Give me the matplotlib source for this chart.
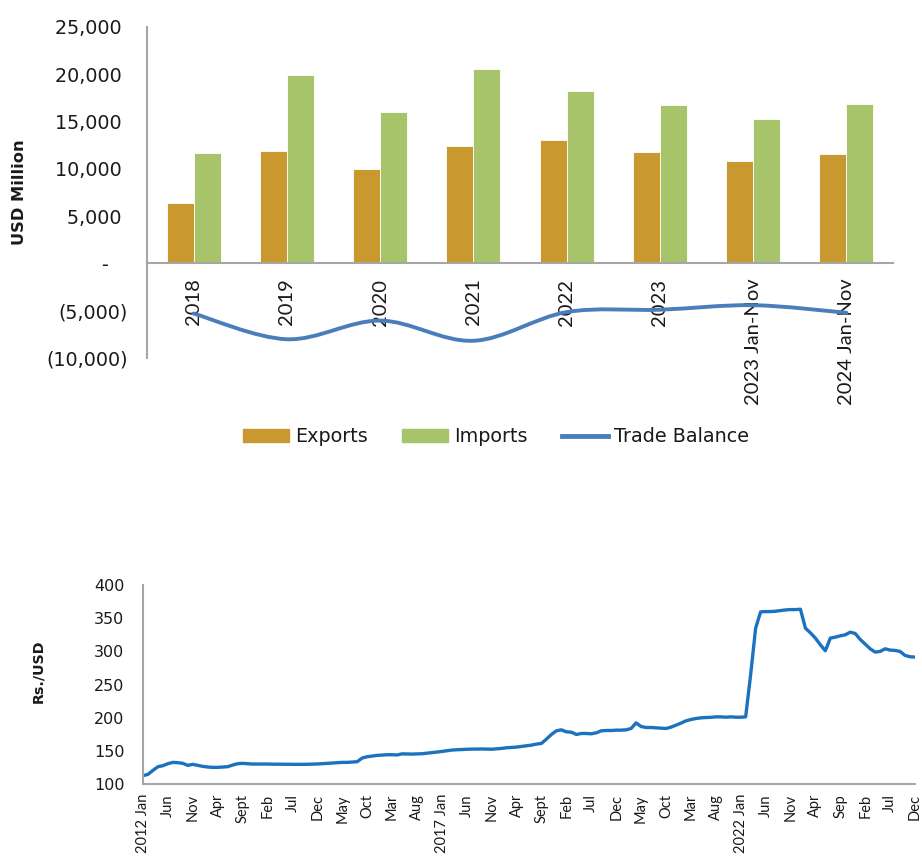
import matplotlib
matplotlib.use("Agg")
import matplotlib.pyplot as plt
import numpy as np
from matplotlib.path import Path
from matplotlib.patches import PathPatch
from matplotlib.lines import Line2D
from matplotlib.ticker import FuncFormatter

# --- trade data (USD million) ---
periods = ["2018", "2019", "2020", "2021", "2022", "2023", "2023 Jan-Nov", "2024 Jan-Nov"]
exports = [6360, 11850, 9950, 12410, 13045, 11815, 10830, 11570]
imports = [11680, 19865, 15960, 20570, 18215, 16740, 15260, 16810]
trade_balance = [-5300, -8020, -6050, -8180, -5150, -4900, -4420, -5220]

# --- exchange rate, Rs./USD, monthly ---
rate_2012 = [113, 115, 121, 126.5, 128, 131, 133, 132.5, 131.5, 128.5, 130, 128.5]
rate_2013 = [127, 126, 125.5, 125.5, 126, 126.5, 129, 131, 131.5, 131, 130.5, 130.5]
rate_2014 = [130.5, 130.5, 130.3, 130.3, 130.2, 130.1, 130, 130, 130, 130.1, 130.3, 130.6]
rate_2015 = [131, 131.5, 132, 132.5, 133, 133, 133.5, 134, 139.5, 141.5, 142.5, 143.5]
rate_2016 = [144, 144.5, 144.5, 144.2, 145.8, 145.6, 145.5, 145.8, 146, 146.8, 147.5, 148.5]
rate_2017 = [149.5, 150.5, 151.5, 152, 152.3, 152.7, 153, 153, 153.2, 153, 152.8, 153.4]
rate_2018 = [154, 155, 155.5, 156, 157, 158, 159, 160.5, 161.5, 168, 175, 180.5]
rate_2019 = [182, 179, 178.5, 175, 176.5, 176.5, 176, 177.5, 180.5, 181, 181, 181.5]
rate_2020 = [181.5, 182, 184, 192.5, 187, 185.5, 185.5, 185, 184.5, 184, 186, 189]
rate_2021 = [192, 195.5, 197.5, 199, 200, 200.5, 200.8, 201.5, 201.5, 201, 201.5, 201]
rate_2022 = [201, 201.5, 265, 335, 359.5, 360, 360, 360.5, 361.5, 362.5, 363, 363]
rate_2023 = [363.5, 335, 328, 320, 310, 301, 320, 321.5, 323.5, 325, 329, 327]
rate_2024 = [318, 311, 304, 299, 300, 304, 302, 301.5, 300, 294, 292, 291.5]
month_labels = ["2012 Jan", "Jun", "Nov", "Apr", "Sept", "Feb", "Jul", "Dec", "May", "Oct",
                "Mar", "Aug", "2017 Jan", "Jun", "Nov", "Apr", "Sept", "Feb", "Jul", "Dec",
                "May", "Oct", "Mar", "Aug", "2022 Jan", "Jun", "Nov", "Apr", "Sep", "Feb",
                "Jul", "Dec"]

C_EXP, C_IMP, C_BAL, C_RATE = "#C9982E", "#A7C46B", "#4A7EBB", "#1B72BE"
C_AXIS, C_TXT = "#A6A6A6", "#1A1A1A"


def smooth_path(xs, ys):
    """Excel-style smoothed line as cubic bezier segments (catmull-rom)."""
    p = np.column_stack([xs, ys]).astype(float)
    verts, codes = [p[0]], [Path.MOVETO]
    n = len(p)
    for i in range(n - 1):
        p0 = p[i - 1] if i > 0 else p[i]
        p3 = p[i + 2] if i + 2 < n else p[i + 1]
        c1 = p[i] + (p[i + 1] - p0) / 6
        c2 = p[i + 1] - (p3 - p[i]) / 6
        verts += [c1, c2, p[i + 1]]
        codes += [Path.CURVE4] * 3
    return Path(verts, codes)


fig = plt.figure(figsize=(9.22, 8.56), dpi=100)

# ---------------- top: trade ----------------
ax = fig.add_axes([147 / 922, 1 - 358 / 856, 746 / 922, 331.3 / 856])
# spine repositioning resets ticks, so do it before styling the labels
ax.spines["bottom"].set_position(("data", 0))
x = np.arange(len(periods))
w = 0.29
ax.bar(x - w / 2, exports, w, color=C_EXP, edgecolor="white", linewidth=0.6, zorder=2)
ax.bar(x + w / 2, imports, w, color=C_IMP, edgecolor="white", linewidth=0.6, zorder=2)
ax.add_patch(PathPatch(smooth_path(x, trade_balance), fill=False, edgecolor=C_BAL,
                       linewidth=2.8, capstyle="round", zorder=2))
ax.set_xlim(-0.5, len(periods) - 0.5)
ax.set_ylim(-10000, 25000)
ax.set_yticks(range(-10000, 25001, 5000))


def acct(v, _pos):
    if v == 0:
        return "-   "
    if v < 0:
        return f"({-v:,.0f})"
    return f"{v:,.0f} "


ax.yaxis.set_major_formatter(FuncFormatter(acct))
ax.set_xticks(x)
ax.set_xticklabels(periods, rotation=90, fontfamily="Lato", fontsize=14.5, color=C_TXT)
for s in ["top", "right"]:
    ax.spines[s].set_visible(False)
for s in ["bottom", "left"]:
    ax.spines[s].set_color(C_AXIS)
    ax.spines[s].set_linewidth(1.5)
ax.tick_params(axis="both", length=0)
ax.tick_params(axis="x", pad=11)
ax.tick_params(axis="y", labelsize=13.8, labelcolor=C_TXT, pad=14)
fig.text(20 / 922, 1 - 192 / 856, "USD Million", rotation=90, fontsize=11.7,
         fontweight="bold", ha="center", va="center", color=C_TXT)

handles = [plt.Rectangle((0, 0), 1, 1, color=C_EXP),
           plt.Rectangle((0, 0), 1, 1, color=C_IMP),
           Line2D([0], [0], color=C_BAL, linewidth=3.5)]
fig.legend(handles, ["Exports", "Imports", "Trade Balance"], loc="center",
           bbox_to_anchor=(496 / 922, 1 - 437 / 856), ncol=3, frameon=False,
           fontsize=13.8, handlelength=2.4, handleheight=0.65, handletextpad=0.3,
           columnspacing=1.8, labelcolor=C_TXT)

# ---------------- bottom: exchange rate ----------------
rates = (rate_2012 + rate_2013 + rate_2014 + rate_2015 + rate_2016 + rate_2017 + rate_2018
         + rate_2019 + rate_2020 + rate_2021 + rate_2022 + rate_2023 + rate_2024)
bx = fig.add_axes([143 / 922, 1 - 784.3 / 856, 772 / 922, 199.3 / 856])
bx.plot(np.arange(len(rates)), rates, color=C_RATE, linewidth=2.4, solid_joinstyle="round")
bx.set_xlim(0, len(rates) - 1)
bx.set_ylim(100, 400)
bx.set_yticks(range(100, 401, 50))
bx.set_xticks(np.arange(0, len(rates), 5))
bx.set_xticklabels(month_labels, rotation=90, fontfamily="Lato", fontsize=10.5, color=C_TXT)
for s in ["top", "right"]:
    bx.spines[s].set_visible(False)
for s in ["bottom", "left"]:
    bx.spines[s].set_color(C_AXIS)
    bx.spines[s].set_linewidth(1.5)
bx.tick_params(axis="both", length=0)
bx.tick_params(axis="x", pad=7)
bx.tick_params(axis="y", labelsize=11.5, labelcolor=C_TXT, pad=13.5)
fig.text(38 / 922, 1 - 671 / 856, "Rs./USD", rotation=90, fontsize=10.3,
         fontweight="bold", ha="center", va="center", color=C_TXT)

fig.savefig("out.png", dpi=100)
